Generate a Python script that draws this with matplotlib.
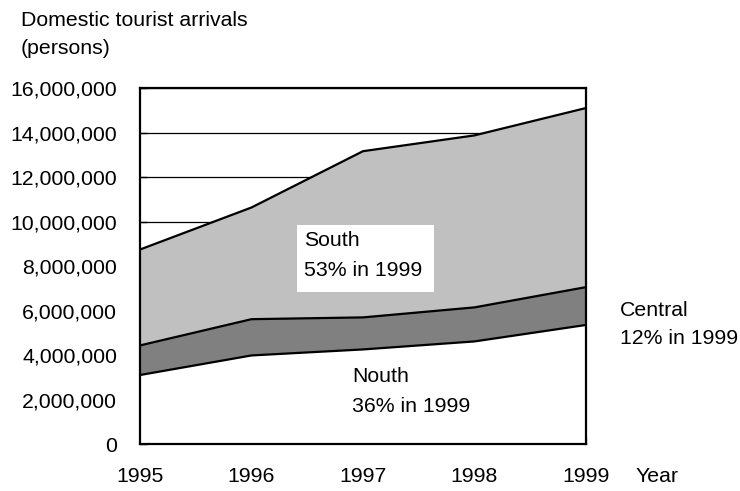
import matplotlib
matplotlib.use("Agg")
import matplotlib.pyplot as plt
from matplotlib.patches import Rectangle
from matplotlib.ticker import FuncFormatter

plt.rcParams['font.family'] = ['Liberation Sans', 'DejaVu Sans']

years = [1995, 1996, 1997, 1998, 1999]
north = [3_100_000, 3_980_000, 4_250_000, 4_610_000, 5_350_000]
central = [1_330_000, 1_630_000, 1_440_000, 1_530_000, 1_700_000]
south = [4_310_000, 5_020_000, 7_470_000, 7_730_000, 8_050_000]
y_ticks = [0, 2_000_000, 4_000_000, 6_000_000, 8_000_000, 10_000_000,
           12_000_000, 14_000_000, 16_000_000]

FS = 15.3
W, H = 740, 491
fig = plt.figure(figsize=(W / 100, H / 100), dpi=100)
ax = fig.add_axes([140 / W, 1 - 444 / H, 446 / W, 356 / H])

c1 = [n for n in north]
c2 = [a + b for a, b in zip(c1, central)]
c3 = [a + b for a, b in zip(c2, south)]

ax.set_axisbelow(True)
ax.fill_between(years, 0, c1, facecolor='white', edgecolor='none', zorder=1)
ax.fill_between(years, c1, c2, facecolor='#808080', edgecolor='none', zorder=1)
ax.fill_between(years, c2, c3, facecolor='#c0c0c0', edgecolor='none', zorder=1)
for c in (c1, c2, c3):
    ax.plot(years, c, color='black', lw=1.6, zorder=2, solid_joinstyle='miter')

ax.set_xlim(years[0], years[-1])
ax.set_ylim(0, 16_000_000)
ax.set_yticks(y_ticks)
ax.set_xticks(years)
ax.yaxis.set_major_formatter(FuncFormatter(lambda v, p: f"{int(v):,}"))
ax.grid(axis='y', color='black', lw=0.9)
ax.grid(axis='x', visible=False)

ax.tick_params(axis='y', direction='in', length=5, width=1, labelsize=FS, pad=16.5,
               color='black')
ax.tick_params(axis='x', direction='in', length=5, width=1, labelsize=FS, pad=16.5,
               color='#888888')
for s in ax.spines.values():
    s.set_linewidth(1.6)
    s.set_zorder(3)

def fx(x):
    return x / W

def fy(y):
    return 1 - y / H

fig.text(fx(21), fy(20), "Domestic tourist arrivals", fontsize=FS, va='center')
fig.text(fx(21), fy(49), "(persons)", fontsize=FS, va='center')
fig.text(fx(635), fy(477), "Year", fontsize=FS, va='center')

fig.patches.append(Rectangle((fx(297), fy(292)), (434 - 297) / W, (292 - 225) / H,
                             transform=fig.transFigure, facecolor='white',
                             edgecolor='none', zorder=4))
fig.text(fx(304), fy(241), "South", fontsize=FS, va='center', zorder=5)
fig.text(fx(304), fy(270), "53% in 1999", fontsize=FS, va='center', zorder=5)

fig.text(fx(352), fy(377), "Nouth", fontsize=FS, va='center')
fig.text(fx(352), fy(406), "36% in 1999", fontsize=FS, va='center')

fig.text(fx(620), fy(310), "Central", fontsize=FS, va='center')
fig.text(fx(620), fy(339), "12% in 1999", fontsize=FS, va='center')

fig.savefig("out.png", dpi=100)
